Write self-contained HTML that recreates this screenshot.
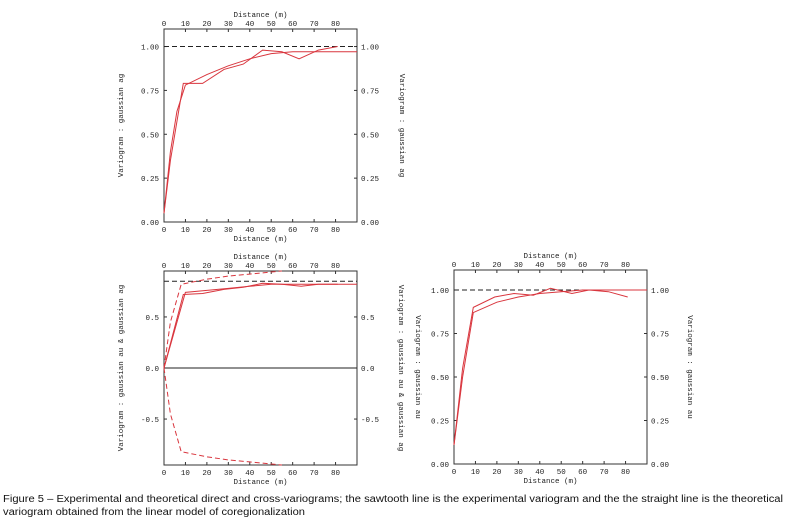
<!DOCTYPE html>
<html><head><meta charset="utf-8"><style>
html,body{margin:0;padding:0;background:#fff;}
svg{display:block;}
</style></head><body>
<svg id="fig" width="789" height="532" xmlns="http://www.w3.org/2000/svg" font-family="Liberation Mono, monospace">
<text x="3" y="502" font-family="Liberation Sans, sans-serif" font-size="10" textLength="780" lengthAdjust="spacingAndGlyphs" fill="#111">Figure 5 – Experimental and theoretical direct and cross-variograms; the sawtooth line is the experimental variogram and the the straight line is the theoretical</text>
<text x="3" y="515" font-family="Liberation Sans, sans-serif" font-size="10" textLength="302" lengthAdjust="spacingAndGlyphs" fill="#111">variogram obtained from the linear model of coregionalization</text>
</svg>
<script>
// Panel 1 data (gaussian ag)
const p1ExpX=[0,3,9,18,28,37,46,55,63,72,81];
const p1ExpY=[0.05,0.35,0.79,0.79,0.87,0.90,0.98,0.97,0.93,0.98,1.00];
const p1ModX=[0,3,6,10,20,30,40,50,60,90];
const p1ModY=[0.05,0.40,0.63,0.78,0.84,0.89,0.93,0.96,0.97,0.97];
const p1Sill=[1.0];
const p1Ticks=[0,0.25,0.5,0.75,1.0];
const p1Labels=["0.00","0.25","0.50","0.75","1.00"];
// Panel 2 data (cross au & ag)
const p2ExpX=[0,9,18,28,37,46,55,64,72,81];
const p2ExpY=[0.0,0.72,0.73,0.77,0.79,0.83,0.82,0.80,0.82,0.82];
const p2ModX=[0,10,20,30,40,50,60,90];
const p2ModY=[0.0,0.74,0.76,0.78,0.80,0.82,0.82,0.82];
const p2EnvX=[0,3,8,20,30,40,50,55];
const p2EnvY=[0.0,0.45,0.82,0.87,0.90,0.92,0.94,0.95];
const p2Sill=[0.85];
const p2Ticks=[-0.5,0,0.5];
const p2Labels=["-0.5","0.0","0.5"];
// Panel 3 data (gaussian au)
const p3ExpX=[0,4,9,19,28,37,45,55,63,72,81];
const p3ExpY=[0.11,0.55,0.90,0.96,0.98,0.97,1.01,0.98,1.00,0.99,0.96];
const p3ModX=[0,4,9,20,30,40,50,60,90];
const p3ModY=[0.11,0.50,0.87,0.93,0.96,0.98,0.99,1.00,1.00];
const p3Sill=[1.0];
const p3Ticks=[0,0.25,0.5,0.75,1.0];
const p3Labels=["0.00","0.25","0.50","0.75","1.00"];
const xTicks=[0,10,20,30,40,50,60,70,80];

const svg=document.getElementById('fig');
const NS="http://www.w3.org/2000/svg";
const FS=7.5;
function mk(tag,attrs){const e=document.createElementNS(NS,tag);for(const k in attrs)e.setAttribute(k,attrs[k]);svg.appendChild(e);return e;}

function panel(id,L,T,R,B,yMin,yMax,ticks,labels,leftTitle,rightTitle,lx,rx,leftRot){
  const sx=v=>L+(v/90)*(R-L);
  const sy=v=>B-(v-yMin)/(yMax-yMin)*(B-T);
  const fr=mk('rect',{x:L,y:T,width:R-L,height:B-T,fill:'none',stroke:'#333','stroke-width':1});
  
  
  xTicks.forEach(t=>{
    const x=sx(t);
    mk('line',{x1:x,y1:B,x2:x,y2:B-3,stroke:'#333'});
    mk('line',{x1:x,y1:T,x2:x,y2:T+3,stroke:'#333'});
    const a=mk('text',{x:x,y:B+10,'font-size':FS,'text-anchor':'middle',fill:'#222'});a.textContent=t;
    
    
    const b=mk('text',{x:x,y:T-3,'font-size':FS,'text-anchor':'middle',fill:'#222'});b.textContent=t;
    
    
  });
  ticks.forEach((t,i)=>{
    const y=sy(t);
    mk('line',{x1:L,y1:y,x2:L+3,y2:y,stroke:'#333'});
    mk('line',{x1:R,y1:y,x2:R-3,y2:y,stroke:'#333'});
    const a=mk('text',{x:L-5,y:y+3,'font-size':FS,'text-anchor':'end',fill:'#222'});a.textContent=labels[i];
    
    
    const b=mk('text',{x:R+4,y:y+3,'font-size':FS,'text-anchor':'start',fill:'#222'});b.textContent=labels[i];
    
    
  });
  const xt=mk('text',{x:(L+R)/2,y:B+19,'font-size':FS,'text-anchor':'middle',fill:'#222'});xt.textContent='Distance (m)';
  
  
  const xt2=mk('text',{x:(L+R)/2,y:T-12,'font-size':FS,'text-anchor':'middle',fill:'#222'});xt2.textContent='Distance (m)';
  
  
  const cy=(T+B)/2;
  const lt=mk('text',{x:lx,y:cy,'font-size':FS,'text-anchor':'middle',fill:'#222',transform:`rotate(${leftRot} ${lx} ${cy})`});lt.textContent=leftTitle;
  
  
  const rt=mk('text',{x:rx,y:cy,'font-size':FS,'text-anchor':'middle',fill:'#222',transform:`rotate(90 ${rx} ${cy})`});rt.textContent=rightTitle;
  
  
  return {sx,sy,L,R};
}
function line(p,xs,ys,attrs,name){
  const d=xs.map((x,i)=>(i?'L':'M')+p.sx(x).toFixed(1)+' '+p.sy(ys[i]).toFixed(1)).join(' ');
  const e=mk('path',Object.assign({d:d,fill:'none'},attrs));
  
  
  return e;
}
function hline(p,v,attrs,name){
  const e=mk('line',Object.assign({x1:p.L,x2:p.R,y1:p.sy(v),y2:p.sy(v)},attrs));
  
  
}
const red={stroke:'#d9363e','stroke-width':1};

const P1=panel('panel-ag',164,29,357,222,0,1.1,p1Ticks,p1Labels,'Variogram : gaussian ag','Variogram : gaussian ag',123,400,-90);
hline(P1,p1Sill[0],{stroke:'#222','stroke-dasharray':'5,3'},'panel-ag-sill');
line(P1,p1ModX,p1ModY,red,'panel-ag-model-line');
line(P1,p1ExpX,p1ExpY,red,'panel-ag-experimental-line');

const P2=panel('panel-cross',164,271,357,465,-0.95,0.95,p2Ticks,p2Labels,'Variogram : gaussian au & gaussian ag','Variogram : gaussian au & gaussian ag',123,399,-90);
hline(P2,0,{stroke:'#222'},'panel-cross-zero-line');
hline(P2,p2Sill[0],{stroke:'#222','stroke-dasharray':'5,3'},'panel-cross-sill');
line(P2,p2EnvX,p2EnvY,{stroke:'#d9363e','stroke-dasharray':'5,3'},'panel-cross-upper-envelope');
line(P2,p2EnvX,p2EnvY.map(v=>-v),{stroke:'#d9363e','stroke-dasharray':'5,3'},'panel-cross-lower-envelope');
line(P2,p2ModX,p2ModY,red,'panel-cross-model-line');
line(P2,p2ExpX,p2ExpY,red,'panel-cross-experimental-line');

const P3=panel('panel-au',454,270,647,464,0,1.115,p3Ticks,p3Labels,'Variogram : gaussian au','Variogram : gaussian au',416,688,90);
hline(P3,p3Sill[0],{stroke:'#222','stroke-dasharray':'5,3'},'panel-au-sill');
line(P3,p3ModX,p3ModY,red,'panel-au-model-line');
line(P3,p3ExpX,p3ExpY,red,'panel-au-experimental-line');
</script>
</body></html>
